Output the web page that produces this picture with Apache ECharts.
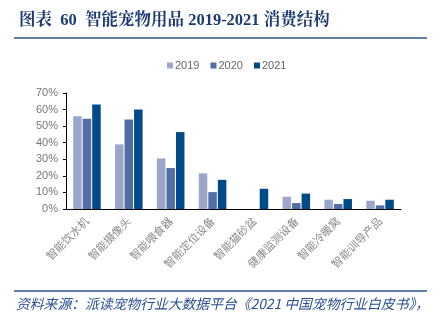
<!DOCTYPE html>
<html><head><meta charset="utf-8">
<script src="https://cdn.jsdelivr.net/npm/echarts@6/dist/echarts.min.js"></script>
<style>html,body{margin:0;padding:0;background:#fff;}#c{width:441px;height:323px;}</style>
</head><body><div id="c"></div>
<script>
const categories = ['智能饮水机','智能摄像头','智能喂食器','智能定位设备','智能猫砂盆','健康监测设备','智能冷暖窝','智能训导产品'];
const seriesNames = ['2019','2020','2021'];
const values2019 = [56, 39, 30.5, 21.5, null, 7.4, 5.6, 5];
const values2020 = [54.5, 54, 24.7, 10.2, null, 3.6, 3, 2.2];
const values2021 = [63, 60, 46.4, 17.6, 12.2, 9.3, 6, 5.6];
const colors = ['#9aa7cb','#536ea6','#004a8a'];
const yTicks = [0,10,20,30,40,50,60,70];

const chart = echarts.init(document.getElementById('c'));
const dataList = [values2019, values2020, values2021];
chart.setOption({
  animation:false,
  title:{text:'图表  60  智能宠物用品 2019-2021 消费结构', left:14, top:7,
    textStyle:{fontFamily:'"Liberation Serif","Noto Serif CJK SC","Noto Sans CJK SC",serif', fontWeight:'bold', fontSize:16.5, color:'#1c3a74'}},
  legend:{top:55, left:162, itemWidth:6, itemHeight:6, itemGap:11, icon:'rect',
    textStyle:{color:'#666', fontSize:11, fontFamily:'"Liberation Sans",Arial,sans-serif', padding:[0,0,0,-3]},
    data:seriesNames},
  grid:{left:66, right:40, top:93, bottom:114},
  xAxis:{type:'category', data:categories,
    axisLine:{lineStyle:{color:'#000', width:1}},
    axisTick:{inside:true, length:3, lineStyle:{color:'#000'}},
    axisLabel:{rotate:45, color:'#888', fontSize:11, margin:10, interval:0,
      fontFamily:'"Noto Sans CJK SC",sans-serif'}},
  yAxis:{type:'value', min:0, max:70, interval:10,
    axisLine:{show:true, lineStyle:{color:'#000'}},
    axisTick:{show:true, length:3, lineStyle:{color:'#000'}},
    splitLine:{show:false},
    axisLabel:{color:'#777', fontSize:11, margin:8, fontFamily:'"Liberation Sans",Arial,sans-serif',
      formatter:v=>v+'%'}},
  graphic:[
    {type:'line', shape:{x1:14,y1:38,x2:427,y2:38}, style:{stroke:'#2a5395', lineWidth:1.5}},
    {type:'line', shape:{x1:14,y1:291,x2:427,y2:291}, style:{stroke:'#2a5395', lineWidth:1.5}},
    {type:'text', left:16, top:297, style:{text:'资料来源：派读宠物行业大数据平台《2021 中国宠物行业白皮书》，',
      fill:'#2a4f92', fontSize:13.8, fontStyle:'italic', fontFamily:'"Noto Sans CJK SC",sans-serif'}}
  ],
  series: seriesNames.map((n,i)=>({name:n, type:'bar', data:dataList[i], barWidth:8.5, barGap:'12%',
    itemStyle:{color:colors[i]}}))
});
</script></body></html>
